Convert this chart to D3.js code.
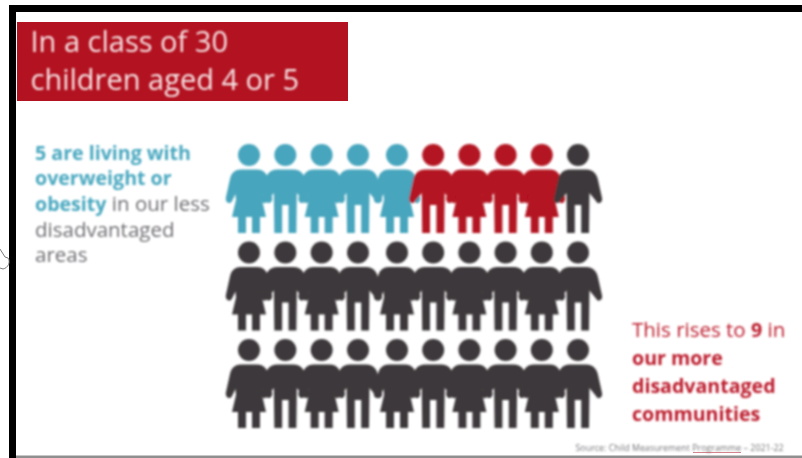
<!DOCTYPE html>
<html>
<head>
<meta charset="utf-8">
<script src="https://cdn.jsdelivr.net/npm/d3@7"></script>
<style>
html,body{margin:0;padding:0;background:#fff;}
svg{display:block;}
text{font-family:"Open Sans",sans-serif;}
</style>
</head>
<body>
<svg id="c" width="802" height="458"></svg>
<script>
const groupNames = ["Less disadvantaged areas", "Additional in more disadvantaged communities", "Other children"];
const groupCounts = [5, 4, 21];
const groupColors = ["#47a5bd", "#b31220", "#3d383b"];
const titleLines = ["In a class of 30", "children aged 4 or 5"];
const leftLines = [
  [["5 are living with", "teal", 700]],
  [["overweight or", "teal", 700]],
  [["obesity", "teal", 700], [" in our less", "grey", 400]],
  [["disadvantaged", "grey", 400]],
  [["areas", "grey", 400]]
];
const rightLines = [
  [["This rises to ", "red", 400], ["9", "red", 700], [" in", "red", 400]],
  [["our more", "red", 700]],
  [["disadvantaged", "red", 700]],
  [["communities", "red", 700]]
];
const sourceText = "Source: Child Measurement Programme – 2021-22";
const textColors = {teal: "#4aa8c0", grey: "#6f6d72", red: "#bd1f2d"};

const svg = d3.select("#c");
const defs = svg.append("defs");
defs.append("filter").attr("id","blur").attr("x","-5%").attr("y","-5%").attr("width","110%").attr("height","110%")
  .append("feGaussianBlur").attr("stdDeviation",0.85);
defs.append("filter").attr("id","blurText").attr("x","-5%").attr("y","-20%").attr("width","110%").attr("height","140%")
  .append("feGaussianBlur").attr("stdDeviation",0.8);

// slide frame
svg.append("rect").attr("x",9).attr("y",5).attr("width",793).attr("height",7).attr("fill","#000");
svg.append("rect").attr("x",9).attr("y",5).attr("width",7).attr("height",453).attr("fill","#000");
svg.append("rect").attr("x",16).attr("y",455.5).attr("width",786).attr("height",2.5).attr("fill","#8f8f8f");

// title band
svg.append("rect").attr("x",17).attr("y",22).attr("width",331).attr("height",79).attr("fill","#b31220");
svg.append("g").attr("filter","url(#blurText)").selectAll("text").data(titleLines).join("text")
  .attr("x",30.5).attr("y",(d,i)=>52+i*38)
  .attr("fill","#f6e3e4").attr("font-size",29).text(d=>d);

// pictogram
const cells = [];
groupCounts.forEach((n,g)=>{ for(let k=0;k<n;k++) cells.push(g); });
const nCols = 10;
const x = d3.scaleLinear().domain([0,3,4,9]).range([249,358,397,578]);
const y = d3.scalePoint().domain([0,1,2]).range([155,350]);
const color = d3.scaleOrdinal().domain(d3.range(groupNames.length)).range(groupColors);

const girl = "M-8,14.5 L8,14.5 C15,14.5 18,19 19,24 L23,42 C24.5,48 18.5,50 17,46 L13.5,39 L13,45 L17,62 L11,62 L11,78 L3,78 L3,62 L-3,62 L-3,78 L-11,78 L-11,62 L-17,62 L-13,45 L-13.5,39 L-17,46 C-18.5,50 -24.5,48 -23,42 L-19,24 C-18,19 -15,14.5 -8,14.5 Z";
const boy = "M-8,14.5 L8,14.5 C16,14.5 19,20 20,25 L24,43 C25,48 19.5,50 18,46 L11.5,38 L11,78 L3.2,78 L3.2,50 L-3.2,50 L-3.2,78 L-11,78 L-11.5,38 L-18,46 C-19.5,50 -25,48 -24,43 L-20,25 C-19,20 -16,14.5 -8,14.5 Z";

const people = svg.append("g").attr("filter","url(#blur)").selectAll("g").data(cells).join("g")
  .attr("transform",(d,i)=>`translate(${x(i%nCols)},${y(Math.floor(i/nCols))})`)
  .attr("fill",d=>color(d));
people.append("circle").attr("r",11);
people.append("path").attr("d",(d,i)=>(i%nCols)%2===0?girl:boy);

// annotations
const sizeByWeight = {400: 20.5, 700: 19.6};
function block(lines,x0,y0,dy){
  const g = svg.append("g").attr("filter","url(#blurText)");
  const t = g.selectAll("text").data(lines).join("text")
    .attr("x",x0).attr("y",(d,i)=>y0+i*dy);
  t.selectAll("tspan").data(d=>d).join("tspan")
    .attr("fill",d=>textColors[d[1]]).attr("font-weight",d=>d[2]).attr("font-size",d=>sizeByWeight[d[2]])
    .style("white-space","pre").text(d=>d[0]);
}
block(leftLines,35,159.5,25.7);
block(rightLines,632,336.5,28.2);

svg.append("text").attr("x",575.5).attr("y",451).attr("font-size",8.9).attr("fill","#77757a")
  .attr("filter","url(#blurText)").text(sourceText);
svg.append("line").attr("x1",693).attr("x2",741).attr("y1",452.5).attr("y2",452.5)
  .attr("stroke","#c9646e").attr("stroke-width",0.8);

// pointer remnant at the left edge
svg.append("path").attr("d","M0,249 L5,257 L8,258 C11,262 8,268 3,269 L0,268").attr("fill","none")
  .attr("stroke","#6d6d6d").attr("stroke-width",0.9);
</script>
</body>
</html>
